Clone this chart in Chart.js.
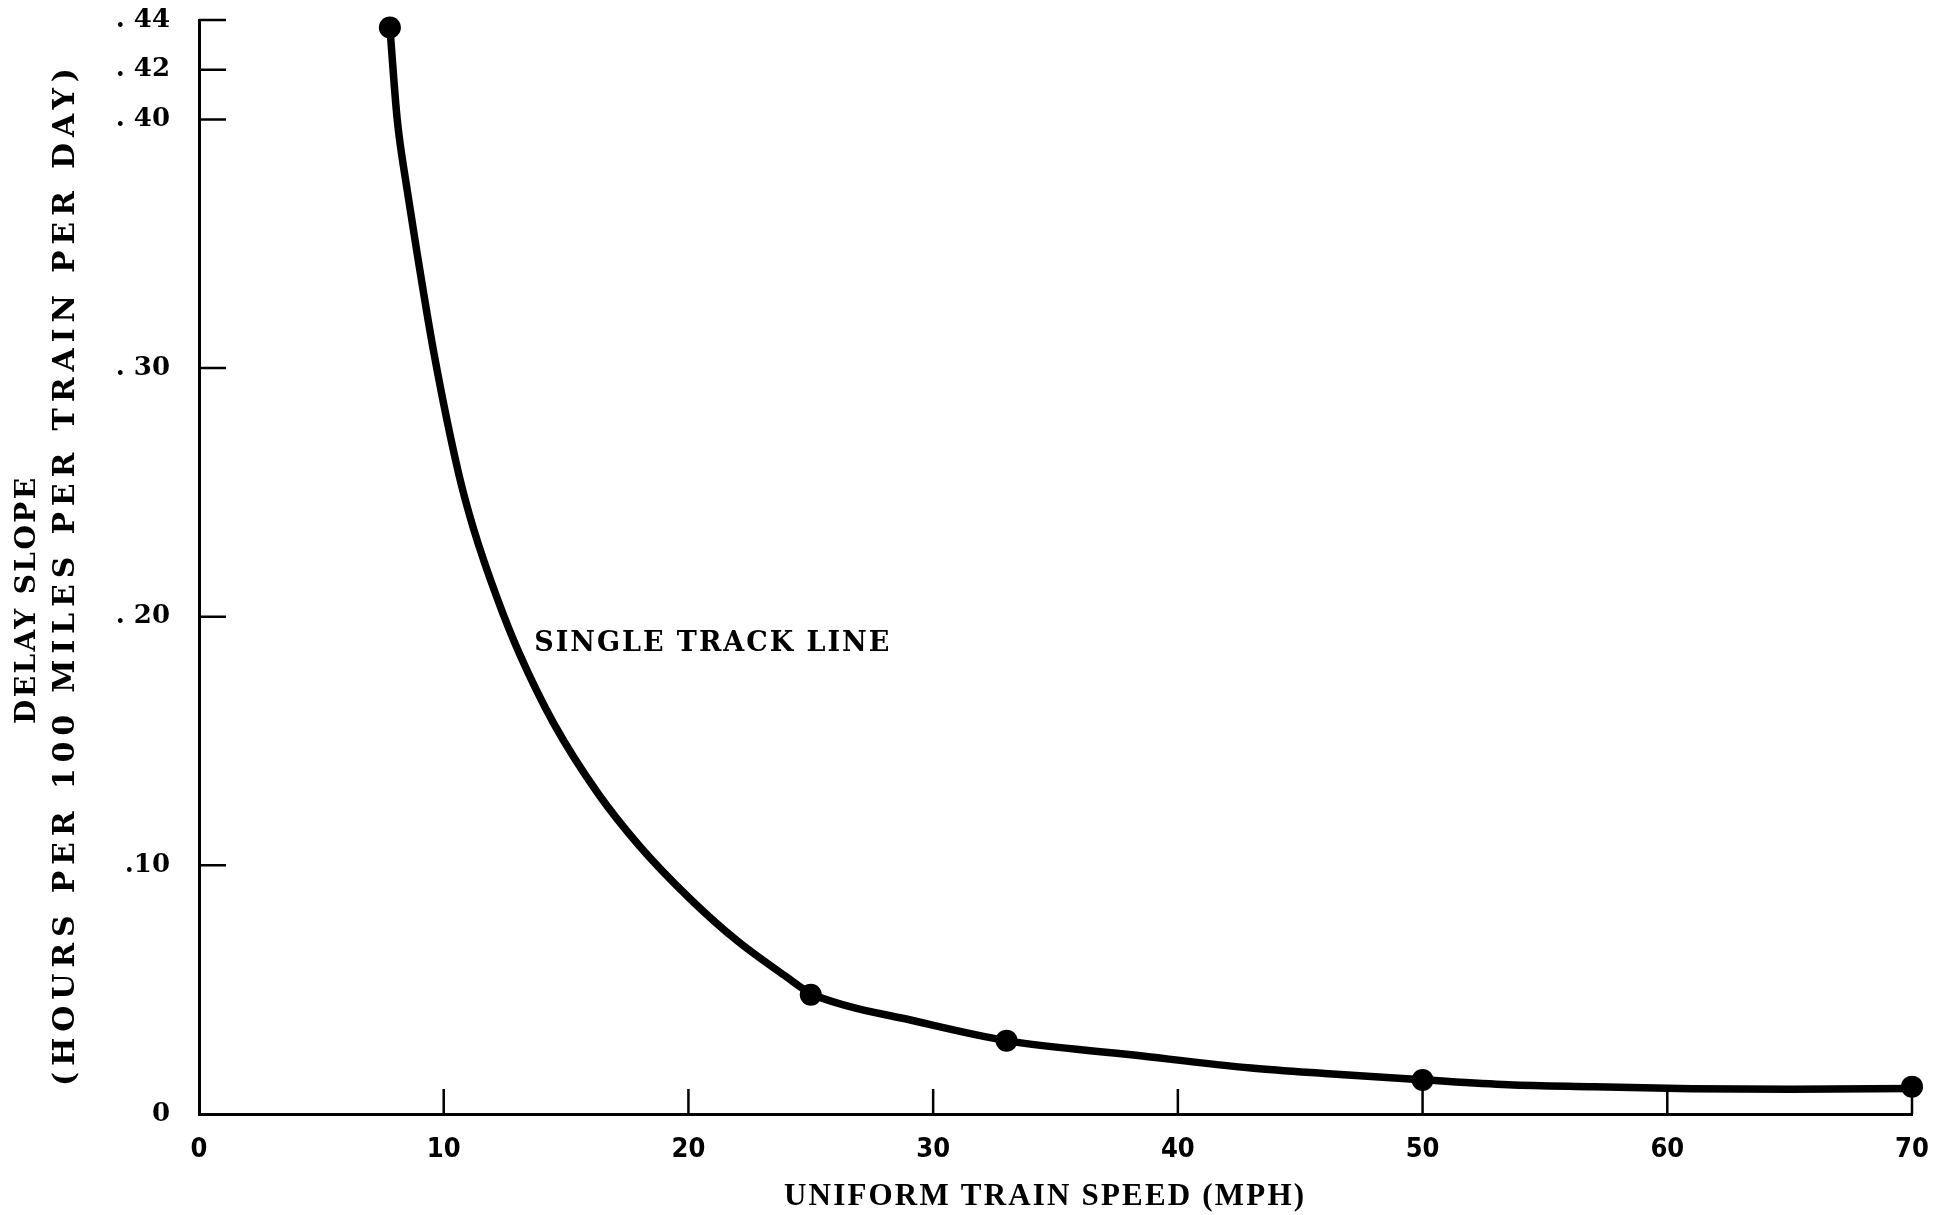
<!DOCTYPE html>
<html>
<head>
<meta charset="utf-8">
<title>Delay slope vs uniform train speed</title>
<style>
  html, body { margin: 0; padding: 0; background: #fff; }
  #wrap { width: 1935px; height: 1215px; position: relative; }
</style>
<script src="https://cdn.jsdelivr.net/npm/chart.js@4/dist/chart.umd.min.js"></script>
</head>
<body>
<div id="wrap"><canvas id="chart"></canvas></div>
<script>
// plotted dots (speed in mph, delay slope)
const pointSpeeds = [7.8, 25, 33, 50, 70];
const pointDelays = [0.437, 0.048, 0.0295, 0.0137, 0.011];

// drawn curve
const curveSpeeds = [7.8, 8.1, 8.5, 8.9, 9.6, 10.6, 11.2, 12.2, 13.1, 14.5, 16.3, 18.0, 20.0, 22.0, 24.0, 25.0, 26.6, 28.7, 33.0, 38.2, 43.0, 46.0, 50.0, 53.5, 57.0, 61.0, 65.0, 70.0];
const curveDelays = [0.437, 0.400, 0.372, 0.347, 0.306, 0.258, 0.236, 0.207, 0.185, 0.157, 0.129, 0.1078, 0.0872, 0.0696, 0.0552, 0.0485, 0.0432, 0.0386, 0.0295, 0.0237, 0.0185, 0.0163, 0.0138, 0.0118, 0.0110, 0.0102, 0.0100, 0.0103];

const xTickValues = [0, 10, 20, 30, 40, 50, 60, 70];
const yTickValues = [0, 0.10, 0.20, 0.30, 0.40, 0.42, 0.44];
const yTickLabels = ["0", ".10", ". 20", ". 30", ". 40", ". 42", ". 44"];

const yTitleLines = ["DELAY SLOPE", "(HOURS PER 100 MILES PER TRAIN PER DAY)"];
const xTitle = "UNIFORM TRAIN SPEED (MPH)";
const curveLabel = "SINGLE TRACK LINE";
const curveLabelAt = [13.7, 0.189];

function toXY(xs, ys) {
  return xs.map((x, i) => ({ x: x, y: ys[i] }));
}

// draws text stretched to a given width with letter spacing
function spacedText(ctx, text, x, y, width) {
  ctx.letterSpacing = "0px";
  const natural = ctx.measureText(text).width;
  const gap = (width - natural) / (text.length - 1);
  ctx.letterSpacing = gap + "px";
  ctx.textAlign = "left";
  ctx.fillText(text, x - width / 2, y);
  ctx.letterSpacing = "0px";
}

// ticks pointing into the plot, like the original drawing
const inwardTicks = {
  id: "inwardTicks",
  beforeDatasetsDraw(chart) {
    const ctx = chart.ctx;
    const area = chart.chartArea;
    const xs = chart.scales.x;
    const ys = chart.scales.y;
    ctx.save();
    ctx.strokeStyle = "#000";
    ctx.lineWidth = 2.5;
    ctx.beginPath();
    yTickValues.forEach((v) => {
      if (v === 0) return;
      const py = ys.getPixelForValue(v);
      ctx.moveTo(area.left, py);
      ctx.lineTo(area.left + 27, py);
    });
    xTickValues.forEach((v) => {
      if (v === 0) return;
      const px = xs.getPixelForValue(v);
      ctx.moveTo(px, area.bottom);
      ctx.lineTo(px, area.bottom - 25);
    });
    ctx.stroke();
    ctx.restore();
  },
};

const textLabels = {
  id: "textLabels",
  afterDraw(chart) {
    const ctx = chart.ctx;
    const xs = chart.scales.x;
    const ys = chart.scales.y;
    ctx.save();
    ctx.fillStyle = "#000";
    ctx.textBaseline = "middle";

    // y axis title, two rotated lines
    ctx.font = "bold 28px 'DejaVu Serif', 'Liberation Serif', serif";
    ctx.save();
    ctx.translate(28, 601);
    ctx.rotate(-Math.PI / 2);
    spacedText(ctx, yTitleLines[0], 0, 0, 246);
    ctx.restore();
    ctx.font = "bold 30px 'DejaVu Serif', 'Liberation Serif', serif";
    ctx.save();
    ctx.translate(66, 577);
    ctx.rotate(-Math.PI / 2);
    spacedText(ctx, yTitleLines[1], 0, 0, 1018);
    ctx.restore();

    // x axis title
    ctx.font = "bold 31px 'Liberation Serif', 'DejaVu Serif', serif";
    spacedText(ctx, xTitle, 1044, 1197, 520);

    // curve label
    ctx.font = "bold 27px 'DejaVu Serif', 'Liberation Serif', serif";
    const lx = xs.getPixelForValue(curveLabelAt[0]);
    const ly = ys.getPixelForValue(curveLabelAt[1]);
    spacedText(ctx, curveLabel, lx + 355 / 2, ly, 355);
    ctx.restore();
  },
};

new Chart(document.getElementById("chart"), {
  type: "scatter",
  data: {
    datasets: [
      {
        label: "curve",
        data: toXY(curveSpeeds, curveDelays),
        showLine: true,
        borderColor: "#000",
        borderWidth: 7.5,
        pointRadius: 0,
        cubicInterpolationMode: "monotone",
        fill: false,
        clip: false,
        order: 2,
      },
      {
        label: "points",
        data: toXY(pointSpeeds, pointDelays),
        showLine: false,
        pointRadius: 11,
        pointBackgroundColor: "#000",
        pointBorderColor: "#000",
        pointBorderWidth: 0,
        clip: false,
        order: 1,
      },
    ],
  },
  options: {
    responsive: true,
    maintainAspectRatio: false,
    animation: false,
    events: [],
    layout: {
      autoPadding: false,
      padding: { left: 0, right: 23, top: 20, bottom: 0 },
    },
    scales: {
      x: {
        type: "linear",
        min: 0,
        max: 70,
        afterBuildTicks: (scale) => {
          scale.ticks = xTickValues.map((v) => ({ value: v }));
        },
        afterFit: (scale) => {
          scale.height = 101;
          scale.paddingLeft = 0;
          scale.paddingRight = 0;
        },
        grid: { display: false, drawTicks: false },
        border: { display: true, color: "#000", width: 3 },
        ticks: {
          color: "#000",
          padding: 20,
          maxRotation: 0,
          font: {
            family: "'Liberation Sans Narrow', 'DejaVu Sans Condensed', 'Liberation Sans', sans-serif",
            weight: "bold",
            size: 27,
          },
        },
        title: { display: false },
      },
      y: {
        type: "linear",
        min: 0,
        max: 0.44,
        afterBuildTicks: (scale) => {
          scale.ticks = yTickValues.map((v) => ({ value: v }));
        },
        afterFit: (scale) => {
          scale.width = 199;
          scale.paddingTop = 0;
          scale.paddingBottom = 0;
        },
        grid: { display: false, drawTicks: false },
        border: { display: true, color: "#000", width: 3 },
        ticks: {
          color: "#000",
          padding: 29,
          autoSkip: false,
          callback: function (value) {
            const i = yTickValues.findIndex((v) => Math.abs(v - value) < 1e-9);
            return i >= 0 ? yTickLabels[i] : "";
          },
          font: {
            family: "'DejaVu Serif', 'Liberation Serif', serif",
            weight: "bold",
            size: 26,
          },
        },
        title: { display: false },
      },
    },
    plugins: {
      legend: { display: false },
      tooltip: { enabled: false },
    },
  },
  plugins: [inwardTicks, textLabels],
});
</script>
</body>
</html>
